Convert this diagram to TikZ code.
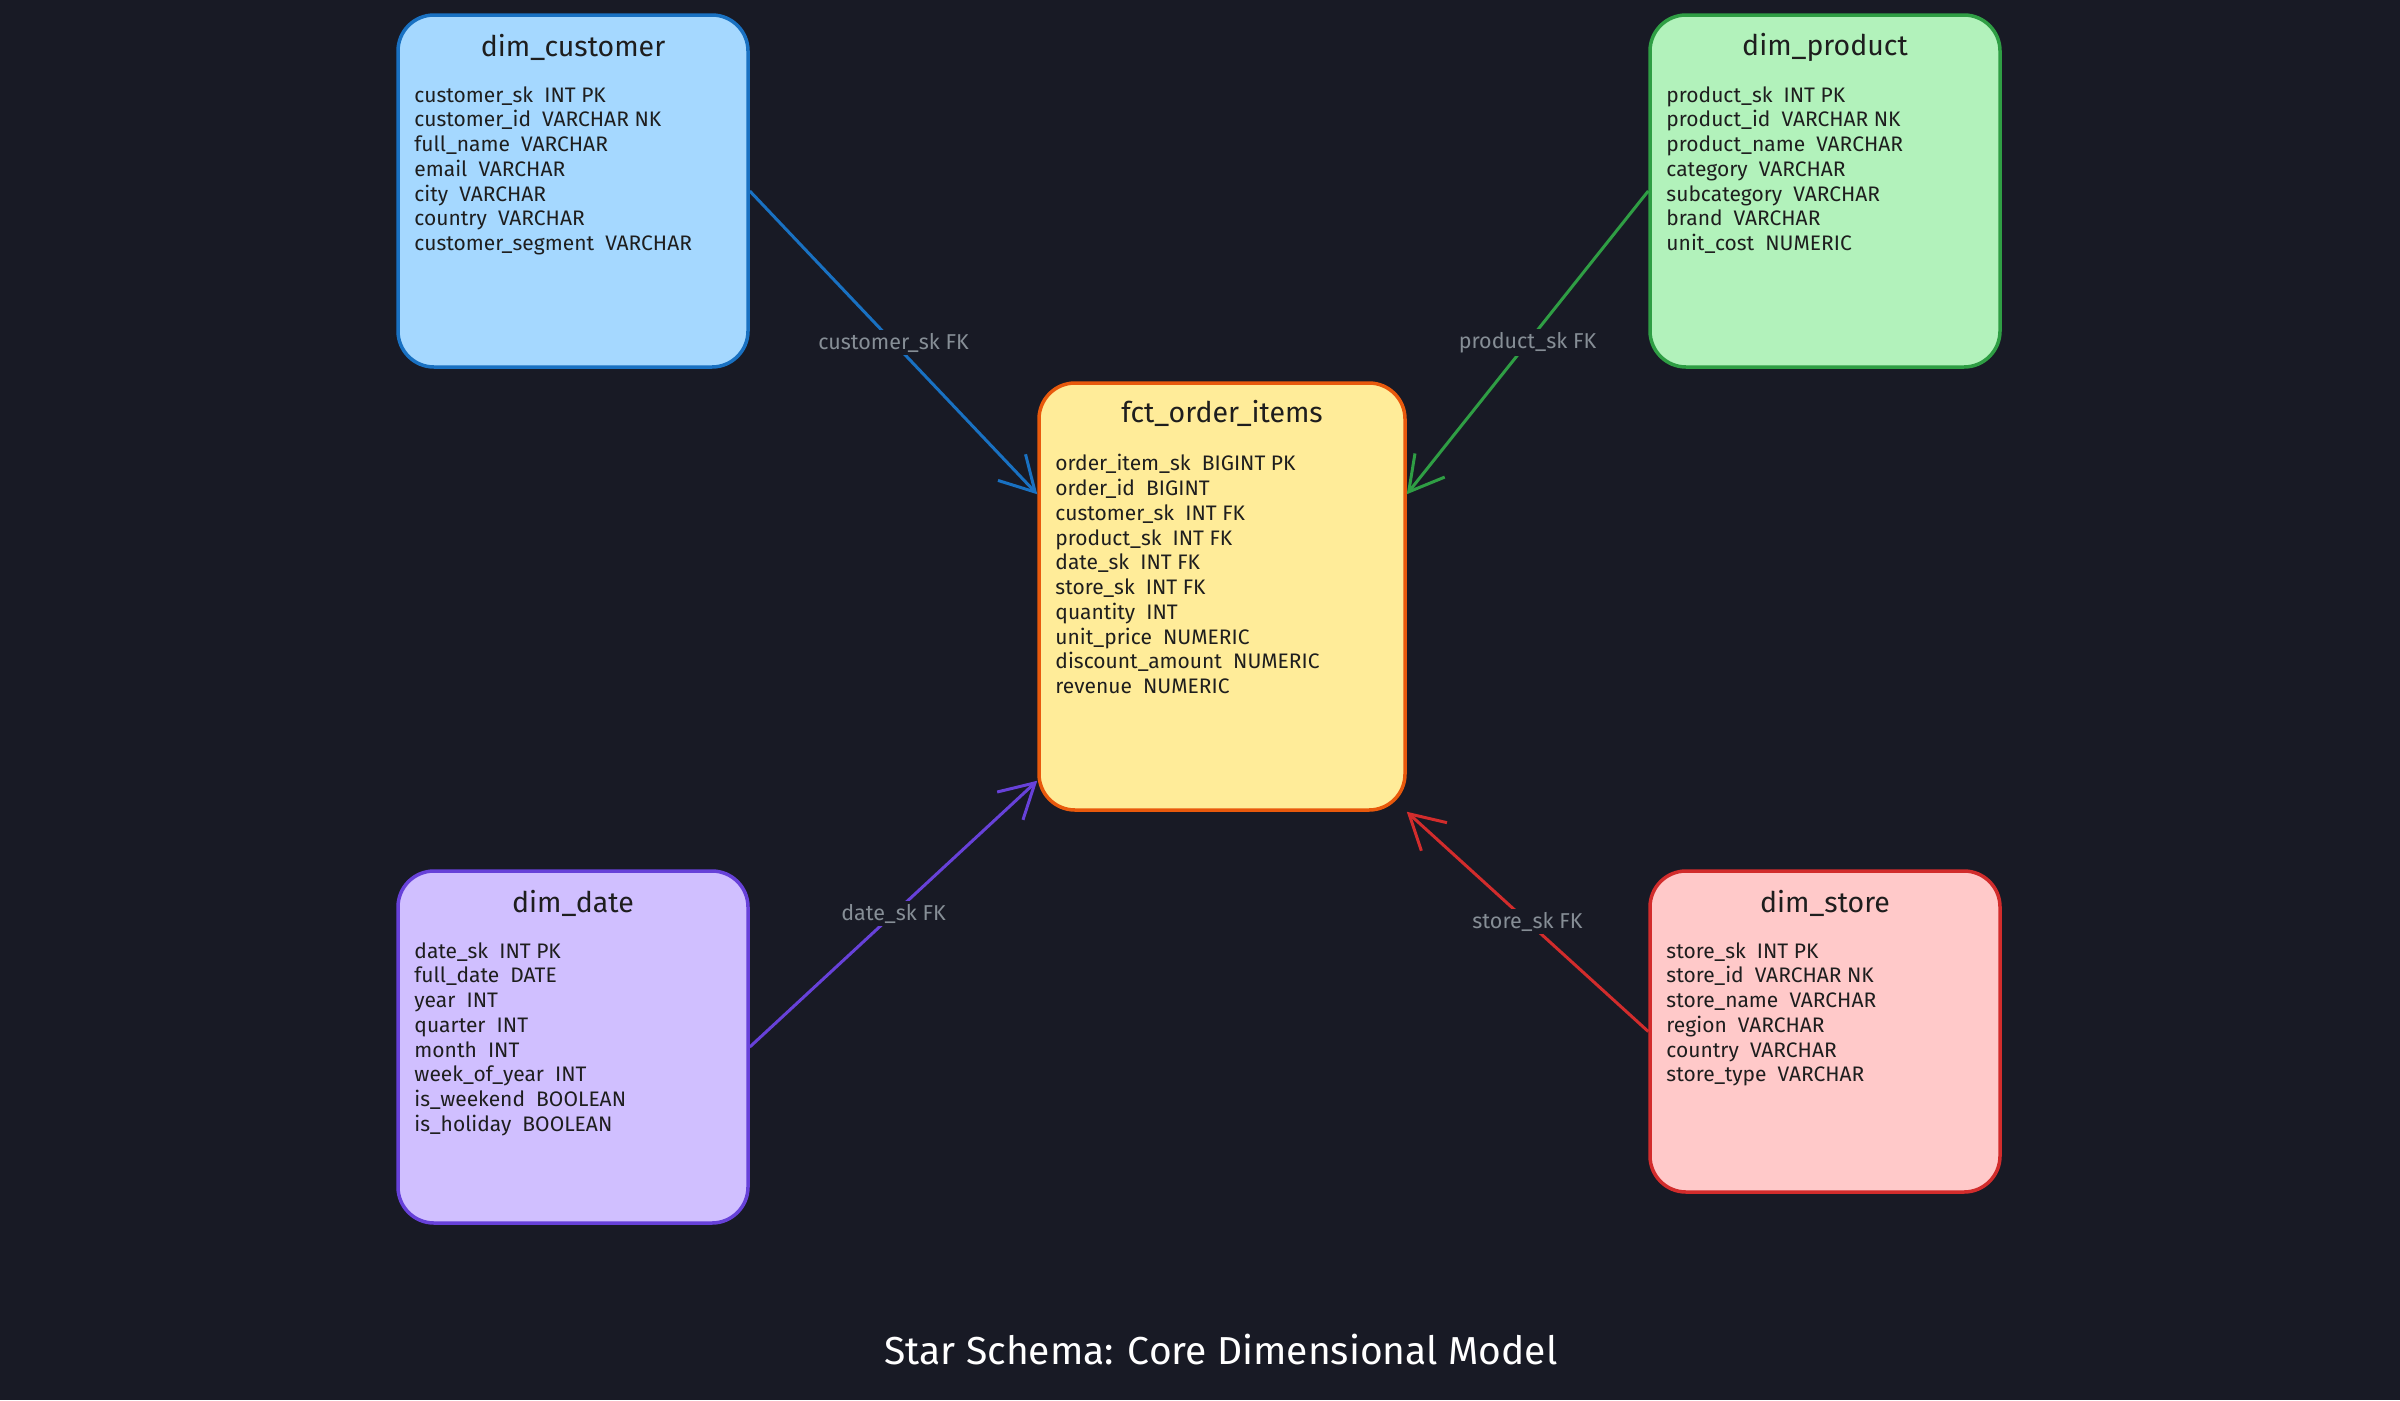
\documentclass[tikz,border=0pt]{standalone}
\usepackage{fontspec}
\setmainfont{Fira Sans}
\usetikzlibrary{arrows.meta,positioning,calc}
\definecolor{bgdark}{RGB}{24,26,37}
\definecolor{inkdark}{RGB}{30,30,30}
\definecolor{fkgray}{RGB}{134,142,150}
\definecolor{custfill}{RGB}{165,216,255}
\definecolor{custline}{RGB}{25,113,194}
\definecolor{prodfill}{RGB}{178,242,187}
\definecolor{prodline}{RGB}{47,158,68}
\definecolor{factfill}{RGB}{255,236,153}
\definecolor{factline}{RGB}{232,89,12}
\definecolor{datefill}{RGB}{208,191,255}
\definecolor{dateline}{RGB}{103,65,217}
\definecolor{storefill}{RGB}{255,201,201}
\definecolor{storeline}{RGB}{210,44,44}

\begin{document}
\begin{tikzpicture}[x=1pt, y=-1pt,
    tbl/.style={draw, line width=3.5pt, rounded corners=36pt, minimum width=350pt, minimum height=352pt, inner sep=0pt},
    tbltitle/.style={font=\fontsize{28.5}{32}\selectfont, text=inkdark},
    tblrows/.style={anchor=north west, align=left, inner sep=0pt, font=\fontsize{21}{24.75}\selectfont, text=inkdark},
    fk/.style={line width=3pt, -{Straight Barb[length=34pt,width=38pt]}},
    fklbl/.style={fill=bgdark, text=fkgray, font=\fontsize{21.5}{24}\selectfont, inner sep=3pt}]
  \useasboundingbox (0,0) rectangle (2400,1400);
  \fill[bgdark] (0,0) rectangle (2400,1400);

  % --- the fact table
  \node[tbl, fill=factfill, draw=factline, minimum width=366pt, minimum height=427pt] (fact) at (1222,596.5) {};
  \node[tbltitle] (factT) at ([yshift=-32pt]fact.north) {fct\_order\_items};
  \node[tblrows] (factR) at ([xshift=18pt,yshift=-73pt]fact.north west) {%
    order\_item\_sk~~BIGINT PK\\ order\_id~~BIGINT\\ customer\_sk~~INT FK\\
    product\_sk~~INT FK\\ date\_sk~~INT FK\\ store\_sk~~INT FK\\ quantity~~INT\\
    unit\_price~~NUMERIC\\ discount\_amount~~NUMERIC\\ revenue~~NUMERIC};

  % --- dimensions
  \node[tbl, fill=custfill, draw=custline] (cust) at (573,191) {};
  \node[tbltitle] (custT) at ([yshift=-34pt]cust.north) {dim\_customer};
  \node[tblrows] (custR) at ([xshift=18pt,yshift=-73pt]cust.north west) {%
    customer\_sk~~INT PK\\ customer\_id~~VARCHAR NK\\ full\_name~~VARCHAR\\
    email~~VARCHAR\\ city~~VARCHAR\\ country~~VARCHAR\\ customer\_segment~~VARCHAR};

  \node[tbl, fill=prodfill, draw=prodline] (prod) at (1825,191) {};
  \node[tbltitle] (prodT) at ([yshift=-34pt]prod.north) {dim\_product};
  \node[tblrows] (prodR) at ([xshift=18pt,yshift=-73pt]prod.north west) {%
    product\_sk~~INT PK\\ product\_id~~VARCHAR NK\\ product\_name~~VARCHAR\\
    category~~VARCHAR\\ subcategory~~VARCHAR\\ brand~~VARCHAR\\ unit\_cost~~NUMERIC};

  \node[tbl, fill=datefill, draw=dateline] (date) at (573,1047) {};
  \node[tbltitle] (dateT) at ([yshift=-34pt]date.north) {dim\_date};
  \node[tblrows] (dateR) at ([xshift=18pt,yshift=-73pt]date.north west) {%
    date\_sk~~INT PK\\ full\_date~~DATE\\ year~~INT\\ quarter~~INT\\ month~~INT\\
    week\_of\_year~~INT\\ is\_weekend~~BOOLEAN\\ is\_holiday~~BOOLEAN};

  \node[tbl, fill=storefill, draw=storeline, minimum height=321pt] (store) at (1825,1031.5) {};
  \node[tbltitle] (storeT) at ([yshift=-34pt]store.north) {dim\_store};
  \node[tblrows] (storeR) at ([xshift=18pt,yshift=-73pt]store.north west) {%
    store\_sk~~INT PK\\ store\_id~~VARCHAR NK\\ store\_name~~VARCHAR\\
    region~~VARCHAR\\ country~~VARCHAR\\ store\_type~~VARCHAR};

  % --- foreign keys
  \draw[fk, custline] (cust.east) -- node[fklbl] (custL) {customer\_sk FK} ([yshift=-113pt]fact.north west);
  \draw[fk, prodline] (prod.west) -- node[fklbl] (prodL) {product\_sk FK} ([yshift=-113pt]fact.north east);
  \draw[fk, dateline] (date.east) -- node[fklbl] (dateL) {date\_sk FK} ([yshift=31pt]fact.south west);
  \draw[fk, storeline] (store.west) -- node[fklbl] (storeL) {store\_sk FK} (fact.south east);

  \node[font=\fontsize{39}{44}\selectfont, text=white] (title) at (1221,1350) {Star Schema: Core Dimensional Model};
\end{tikzpicture}
\end{document}
